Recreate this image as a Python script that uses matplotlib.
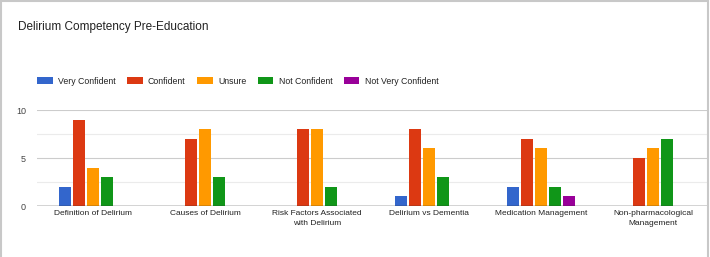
import numpy as np
import matplotlib
matplotlib.use("Agg")
import matplotlib.pyplot as plt
from matplotlib.patches import Rectangle

plt.rcParams['font.family'] = ['Liberation Sans', 'DejaVu Sans']

categories = ["Definition of Delirium", "Causes of Delirium",
              "Risk Factors Associated\nwith Delirium", "Delirium vs Dementia",
              "Medication Management", "Non-pharmacological\nManagement"]
series_names = ["Very Confident", "Confident", "Unsure", "Not Confident", "Not Very Confident"]
very_confident = [2, 0, 0, 1, 2, 0]
confident = [9, 7, 8, 8, 7, 5]
unsure = [4, 8, 8, 6, 6, 6]
not_confident = [3, 3, 2, 3, 2, 7]
not_very_confident = [0, 0, 0, 0, 1, 0]
series = [very_confident, confident, unsure, not_confident, not_very_confident]
colors = ["#3366cc", "#dc3912", "#ff9900", "#109618", "#990099"]

W, H = 710, 257
fig = plt.figure(figsize=(W / 100, H / 100), dpi=100)
ax = fig.add_axes([37 / W, 51 / H, 672 / W, 96 / H])

x = np.arange(len(categories))
slot = 0.125
for i, (vals, c, name) in enumerate(zip(series, colors, series_names)):
    ax.bar(x + (i - 2) * slot, vals, width=slot - 0.01, color=c, label=name, zorder=2, linewidth=0)

ax.set_xlim(-0.5, 5.5)
ax.set_ylim(0, 10)
ax.set_yticks([0, 5, 10])
ax.set_yticks([2.5, 7.5], minor=True)
ax.grid(axis='y', which='major', color='#cccccc', linewidth=0.8, zorder=0)
ax.grid(axis='y', which='minor', color='#ebebeb', linewidth=0.8, zorder=0)
ax.axhline(0, color='#333333', linewidth=1.0, zorder=3)
for s in ax.spines.values():
    s.set_visible(False)
ax.tick_params(axis='both', which='both', length=0, colors='#222222')
ax.tick_params(axis='y', pad=8, labelsize=6.5, labelcolor='#444444')
ax.tick_params(axis='x', pad=3, labelsize=6)
ax.set_xticks(x)
ax.set_xticklabels(categories, linespacing=1.5)

fig.text(18 / W, 1 - 27 / H, "Delirium Competency Pre-Education", fontsize=8.5,
         color='#222222', va='center', ha='left')

fig.legend(loc='center left', bbox_to_anchor=(37 / W, 1 - 81 / H), ncol=5, frameon=False,
           fontsize=6.3, handlelength=1.8, handleheight=1.0, handletextpad=0.6,
           columnspacing=1.3, labelcolor='#222222', borderaxespad=0, borderpad=0)

fig.add_artist(Rectangle((1.5 / W, -0.1), 706 / W, 1.1 - 1.5 / H, transform=fig.transFigure,
                         fill=False, edgecolor='#c8c8c8', linewidth=1.5))

fig.savefig("out.png", dpi=100)
